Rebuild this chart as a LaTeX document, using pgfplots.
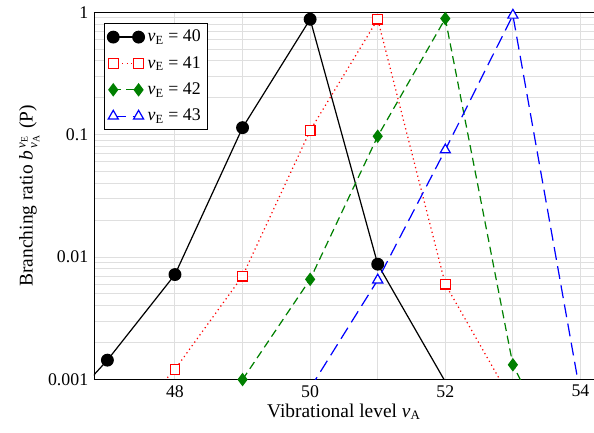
\documentclass[border=0pt]{standalone}
\usepackage{amsmath}
\usepackage{fontspec}
\setmainfont{Liberation Serif}
\usepackage{pgfplots}
\pgfplotsset{compat=1.18}
\newcommand{\nuv}{\textit{ν}}
\begin{document}
\begin{tikzpicture}
\begin{axis}[
    scale only axis, width=309pt, height=227pt,
    ymode=log,
    xmin=46.8, xmax=54.2, ymin=0.001, ymax=1,
    xtick={48,50,52,54}, minor x tick num=1,
    ytick={0.001,0.01,0.1,1}, yticklabels={0.001,0.01,0.1,1},
    axis y line*=left,
    grid=both, major grid style={gray!25, line width=0.6pt}, minor grid style={gray!25, line width=0.6pt},
    major tick length=0pt, minor tick length=0pt,
    /pgf/number format/assume math mode=true,
    tick label style={font=\fontsize{11}{13}\selectfont},
    label style={font=\fontsize{12}{14}\selectfont},
    xlabel={Vibrational level \nuv$_{\text{A}}$},
    ylabel={Branching ratio \textit{b}$^{\,\nuv_{\text{E}}}_{\,\nuv_{\text{A}}}$ (P)},
    xlabel style={yshift=3pt}, ylabel style={yshift=-1.5pt},
    legend style={at={(0.02,0.97)}, anchor=north west, draw=black, fill=white,
        font=\fontsize{11}{13}\selectfont, row sep=3.5pt, inner sep=2pt},
    legend cell align=left,
    legend image code/.code={\draw[#1, mark indices={1,2}] plot coordinates {(0cm,0cm) (0.55cm,0cm)};},
]
\addplot[black, line width=0.75pt, mark=*, mark size=3.6pt, mark indices={1,2,3,4,5}]
    coordinates {(46,0.00036) (47,0.00144) (48,0.0072) (49,0.114) (50,0.875) (51,0.00875) (52,0.00096)};
\addlegendentry{\nuv$_{\text{E}}$ = 40}
\addplot[red, line width=0.75pt, dotted, mark=square*, mark size=3pt, mark options={solid, fill=white}, mark indices={1,2,3,4,5}]
    coordinates {(47,0.0003) (48,0.00121) (49,0.0070) (50,0.108) (51,0.875) (52,0.0060) (53,0.00065)};
\addlegendentry{\nuv$_{\text{E}}$ = 41}
\addplot[green!50!black, line width=0.75pt, dash pattern=on 5pt off 3pt, mark=diamond*, mark size=3.6pt, mark options={solid}, mark indices={1,2,3,4,5}]
    coordinates {(49,0.001) (50,0.00658) (51,0.097) (52,0.887) (53,0.00132) (54,0.000105)};
\addlegendentry{\nuv$_{\text{E}}$ = 42}
\addplot[blue, line width=0.75pt, dash pattern=on 8pt off 4pt, mark=triangle*, mark size=3.6pt, mark options={solid, fill=white}, mark indices={1,2,3}]
    coordinates {(50,0.00085) (51,0.0065) (52,0.075) (53,0.944) (54,0.00075)};
\addlegendentry{\nuv$_{\text{E}}$ = 43}
\end{axis}
\pgfresetboundingbox
\path (-58pt,-33pt) rectangle (309pt,234.5pt);
\end{tikzpicture}
\end{document}
